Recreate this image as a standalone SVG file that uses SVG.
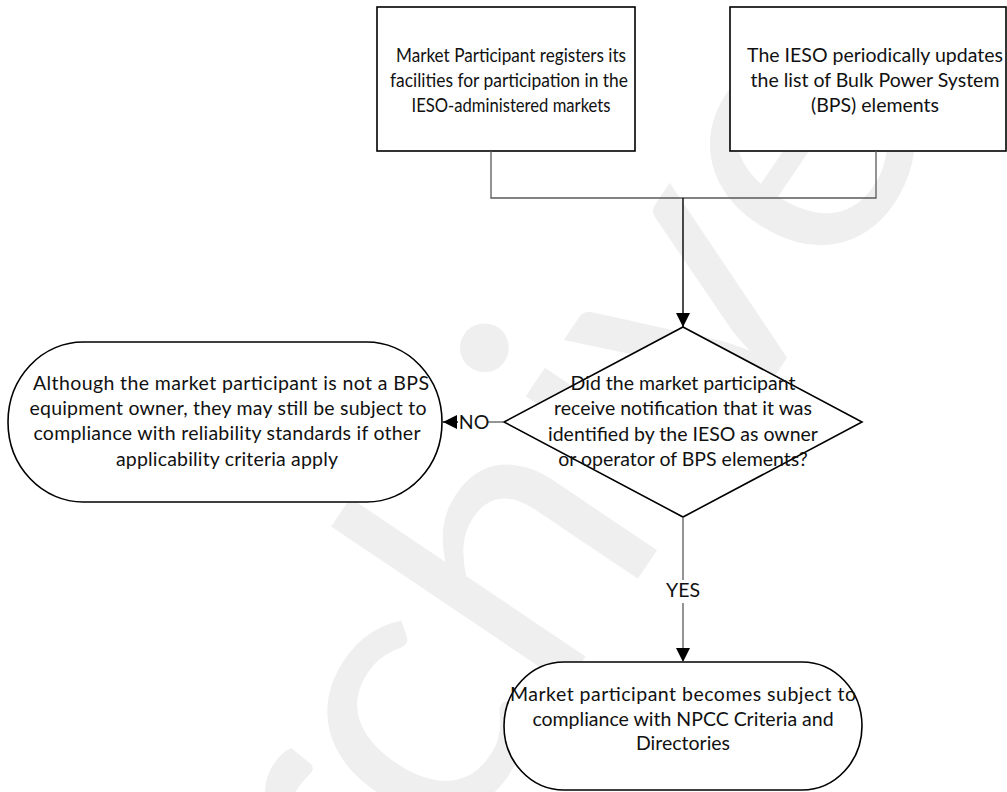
<svg xmlns="http://www.w3.org/2000/svg" width="1007" height="792" viewBox="0 0 1007 792">
<defs>
<style>
.t{font-family:Lato,"Open Sans","Liberation Sans",sans-serif;font-size:19.5px;fill:#111;text-anchor:middle}
.shape{fill:#fff;stroke:#000;stroke-width:1.6}
.ln{fill:none;stroke:#5a5a5a;stroke-width:1.3}
.lk{fill:none;stroke:#000;stroke-width:1.4}
.wm{font-family:Lato,"Liberation Sans",sans-serif;font-size:385px;fill:#efefef}
</style>
<marker id="ah" viewBox="0 0 14 14" refX="14" refY="7" markerWidth="14" markerHeight="14" markerUnits="userSpaceOnUse" orient="auto">
<path d="M0,0 L14,7 L0,14 Z" fill="#000"/>
</marker>
</defs>
<rect width="1007" height="792" fill="#fff"/>
<text id="watermark" class="wm" x="229" y="1185" transform="rotate(-56 229 1185)">Archive</text>
<g id="n1">
<rect class="shape" x="377" y="7" width="258" height="144"/>
<text class="t" x="511" y="62" textLength="230" lengthAdjust="spacingAndGlyphs">Market Participant registers its</text>
<text class="t" x="509" y="87" textLength="238" lengthAdjust="spacingAndGlyphs">facilities for participation in the</text>
<text class="t" x="511" y="112" textLength="199" lengthAdjust="spacingAndGlyphs">IESO-administered markets</text>
</g>
<g id="n2">
<rect class="shape" x="730" y="7" width="276" height="144"/>
<text class="t" x="875" y="62">The IESO periodically updates</text>
<text class="t" x="875" y="87">the list of Bulk Power System</text>
<text class="t" x="875" y="112">(BPS) elements</text>
</g>
<g id="n3">
<polygon class="shape" points="683,327 862,422 683,517 504,422"/>
<text class="t" x="683" y="390">Did the market participant</text>
<text class="t" x="683" y="415">receive notification that it was</text>
<text class="t" x="683" y="441">identified by the IESO as owner</text>
<text class="t" x="683" y="466">or operator of BPS elements?</text>
</g>
<g id="n4">
<rect class="shape" x="8" y="342" width="434" height="160" rx="75" ry="80"/>
<text class="t" x="231" y="390" textLength="396" lengthAdjust="spacing">Although the market participant  is not a BPS</text>
<text class="t" x="228" y="415" textLength="397" lengthAdjust="spacing">equipment owner, they may still be subject to</text>
<text class="t" x="227" y="440" textLength="387" lengthAdjust="spacing">compliance with reliability standards if other</text>
<text class="t" x="227" y="466" textLength="222" lengthAdjust="spacing">applicability criteria apply</text>
</g>
<g id="n5">
<rect class="shape" x="504" y="662" width="358" height="128" rx="60" ry="64"/>
<text class="t" x="683" y="701" textLength="346" lengthAdjust="spacing">Market participant becomes subject to</text>
<text class="t" x="683" y="726">compliance with NPCC Criteria and</text>
<text class="t" x="683" y="750">Directories</text>
</g>
<g id="connectors">
<path class="ln" d="M491,151 V198 H876 V151"/>
<path class="lk" d="M683,198 V327" marker-end="url(#ah)"/>
<path class="ln" d="M504,422 H488"/>
<text class="t" x="474" y="429">NO</text>
<path class="lk" d="M458,422 H443" marker-end="url(#ah)"/>
<path class="ln" d="M683,517 V580"/>
<text class="t" x="683" y="597">YES</text>
<path class="ln" d="M683,603 V662" marker-end="url(#ah)"/>
</g>
</svg>
